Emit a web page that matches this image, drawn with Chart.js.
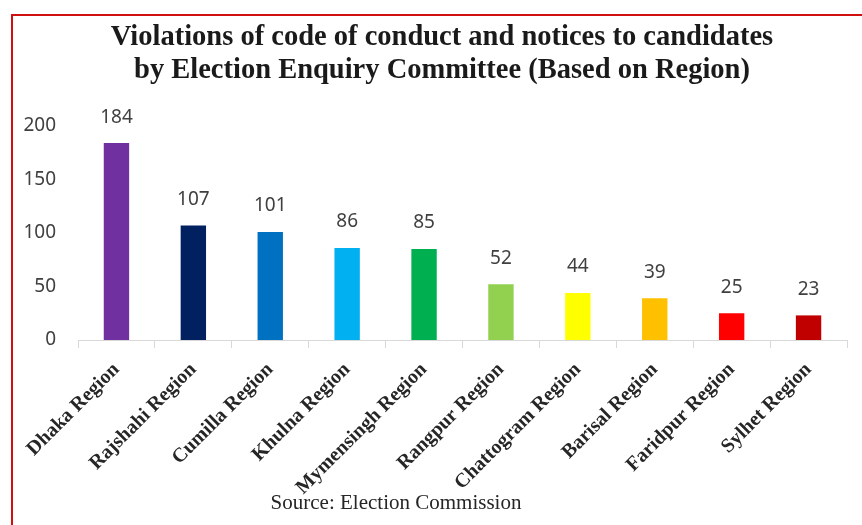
<!DOCTYPE html>
<html>
<head>
<meta charset="utf-8">
<script src="https://cdn.jsdelivr.net/npm/chart.js@4.4.0/dist/chart.umd.min.js"></script>
<style>
  html, body { margin: 0; padding: 0; background: #fff; overflow: hidden; }
  #wrap { position: relative; width: 862px; height: 525px; }
  #frame { position: absolute; left: 11px; top: 14px; width: 900px; height: 600px;
           border-left: 2px solid #d01010; border-top: 2px solid #d01010; }
  canvas { position: absolute; left: 0; top: 0; }
</style>
</head>
<body>
<div id="wrap">
  <div id="frame"></div>
  <canvas id="chart" width="862" height="525"></canvas>
</div>
<script>
// Notices issued per region
const regions = ['Dhaka Region', 'Rajshahi Region', 'Cumilla Region', 'Khulna Region', 'Mymensingh Region',
                 'Rangpur Region', 'Chattogram Region', 'Barisal Region', 'Faridpur Region', 'Sylhet Region'];
const notices = [184, 107, 101, 86, 85, 52, 44, 39, 25, 23];
const barColors = ['#7030a0', '#002060', '#0070c0', '#00b0f0', '#00b050',
                   '#92d050', '#ffff00', '#ffc000', '#ff0000', '#c00000'];
const titleLines = ['Violations of code of conduct and notices to candidates',
                    'by Election Enquiry Committee (Based on Region)'];
const sourceNote = 'Source: Election Commission';

// Value above each bar
const valueLabels = {
  id: 'valueLabels',
  afterDatasetsDraw(chart) {
    const ctx = chart.ctx;
    const meta = chart.getDatasetMeta(0);
    ctx.save();
    ctx.font = '19px "Noto Sans"';
    ctx.fillStyle = '#404040';
    ctx.textAlign = 'center';
    ctx.textBaseline = 'middle';
    meta.data.forEach((bar, i) => {
      ctx.fillText(String(chart.data.datasets[0].data[i]), bar.x, bar.y - 26);
    });
    ctx.restore();
  }
};

// Two-line heading and the source note underneath the chart
const headingAndSource = {
  id: 'headingAndSource',
  afterDraw(chart) {
    const ctx = chart.ctx;
    ctx.save();
    ctx.fillStyle = '#1a1a1a';
    ctx.textAlign = 'center';
    ctx.textBaseline = 'alphabetic';
    ctx.font = 'bold 28.5px "Liberation Serif"';
    ctx.fillText(titleLines[0], 442, 45);
    ctx.fillText(titleLines[1], 442, 78);
    ctx.font = '21px "Liberation Serif"';
    ctx.fillStyle = '#262626';
    ctx.textBaseline = 'middle';
    ctx.fillText(sourceNote, 396, 503);
    ctx.restore();
  }
};

new Chart(document.getElementById('chart'), {
  type: 'bar',
  data: {
    labels: regions,
    datasets: [{
      data: notices,
      backgroundColor: barColors,
      borderWidth: 0,
      barPercentage: 0.33,
      categoryPercentage: 1.0
    }]
  },
  options: {
    responsive: false,
    animation: false,
    layout: { padding: { left: 0, right: 15, top: 126, bottom: 0 } },
    plugins: {
      legend: { display: false },
      tooltip: { enabled: false },
      title: { display: false }
    },
    scales: {
      x: {
        grid: { display: true, drawOnChartArea: false, drawTicks: true, tickLength: 8,
                color: '#d9d9d9', offset: true },
        border: { display: true, color: '#d9d9d9', width: 1 },
        ticks: {
          minRotation: 45, maxRotation: 45,
          color: '#262626',
          padding: 10,
          font: { family: '"Liberation Serif"', size: 20, weight: 'bold' }
        },
        afterFit(scale) { scale.height = 185; }
      },
      y: {
        min: 0, max: 200,
        grid: { display: false, drawTicks: false },
        border: { display: false },
        ticks: {
          stepSize: 50,
          color: '#404040',
          padding: 22,
          font: { family: '"Noto Sans"', size: 19 }
        },
        afterFit(scale) { scale.width = 78; }
      }
    }
  },
  plugins: [valueLabels, headingAndSource]
});
</script>
</body>
</html>
